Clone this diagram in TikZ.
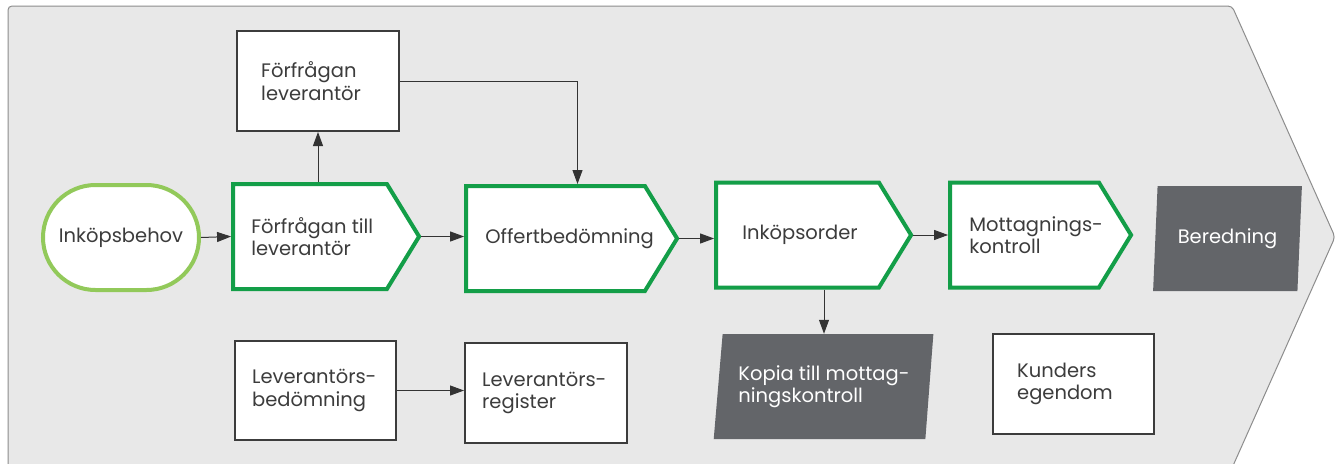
\documentclass[tikz,border=0pt]{standalone}
\usepackage{fontspec}
\setmainfont{Poppins}
\usetikzlibrary{arrows.meta,shapes.symbols,shapes.geometric,shapes.misc}

\definecolor{procgreen}{HTML}{139E48}
\definecolor{startgreen}{HTML}{92C95A}
\definecolor{boxgray}{HTML}{3C3C3C}
\definecolor{docgray}{HTML}{636569}
\definecolor{txtgray}{HTML}{3C3C3C}
\definecolor{bggray}{HTML}{E8E8E8}
\definecolor{rimgray}{HTML}{8C8C8C}
\definecolor{arrowgray}{HTML}{333333}

\begin{document}
\begin{tikzpicture}[x=1pt,y=-1pt,
  font=\fontsize{19.5}{22.5}\selectfont,
  every node/.style={text=txtgray, align=left, inner sep=0pt},
  tag/.style={anchor=west, align=left},
  startbox/.style={rounded rectangle, draw=startgreen, line width=4pt, fill=white,
    minimum width=156pt, minimum height=105pt},
  process/.style={signal, signal to=east, signal pointer angle=117, draw=procgreen,
    line width=4pt, fill=white, minimum height=105pt},
  plainbox/.style={rectangle, draw=boxgray, line width=2pt, fill=white,
    minimum width=162pt, minimum height=100pt},
  docbox/.style={trapezium, trapezium stretches=true, fill=docgray, text=white,
    minimum height=105pt},
  flow/.style={-{Triangle[length=14pt,width=10pt]}, line width=1pt, draw=arrowgray}]
  \useasboundingbox (0,0) rectangle (1338,463);
  % background arrow
  \draw[fill=bggray, draw=rimgray, line width=1pt, rounded corners=4pt]
    (8,470) -- (8,6) -- (1232,6) -- (1335,237) -- (1232,468) -- (1232,470);

  % main chain
  \node[startbox, align=center] (behov) at (121,237.5) {Inköpsbehov};
  \node[process, minimum width=186pt,
    label={[tag, xshift=20pt]west:Förfrågan till\\leverantör}] (till) at (310,236.5) {};
  \node[process, minimum width=211pt,
    label={[tag, xshift=21pt]west:Offertbedömning}] (offert) at (555.5,238.5) {};
  \node[process, minimum width=195pt,
    label={[tag, xshift=28pt]west:Inköpsorder}] (order) at (797.5,235) {};
  \node[process, minimum width=181pt,
    label={[tag, xshift=21pt]west:Mottagnings-\\kontroll}] (mottag) at (1024.5,235) {};
  \node[docbox, trapezium left angle=81, trapezium right angle=99,
    minimum width=149pt, align=center] (bered) at (1227.5,238.5) {Beredning};

  % side boxes
  \node[plainbox,
    label={[tag, xshift=25pt]west:Förfrågan\\leverantör}] (forfr) at (318,81) {};
  \node[plainbox, minimum width=161pt, minimum height=99pt,
    label={[tag, xshift=18pt]west:Leverantörs-\\bedömning}] (levbed) at (315.5,390.5) {};
  \node[plainbox,
    label={[tag, xshift=18pt]west:Leverantörs-\\register}] (levreg) at (546,393) {};
  \node[docbox, trapezium left angle=80, trapezium right angle=99,
    minimum width=220pt] (kopia) at (824,386.5) {Kopia till mottag-\\ningskontroll};
  \node[plainbox, minimum width=161pt,
    label={[tag, xshift=25pt]west:Kunders\\egendom}] (kunder) at (1073.5,384) {};

  % connectors
  \draw[flow] (behov.east) -- (till.west);
  \draw[flow] (till.east) -- (till.east -| offert.west);
  \draw[flow] (offert.east) -- (offert.east -| order.west);
  \draw[flow] (order.east) -- (mottag.west);
  \draw[flow] (till.north -| forfr.south) -- (forfr.south);
  \draw[flow] (forfr.east) -| ([xshift=22pt]offert.north);
  \draw[flow] (order.south -| kopia.center) -- (kopia.north -| kopia.center);
  \draw[flow] (levbed.east) -- (levbed.east -| levreg.west);
\end{tikzpicture}
\end{document}
